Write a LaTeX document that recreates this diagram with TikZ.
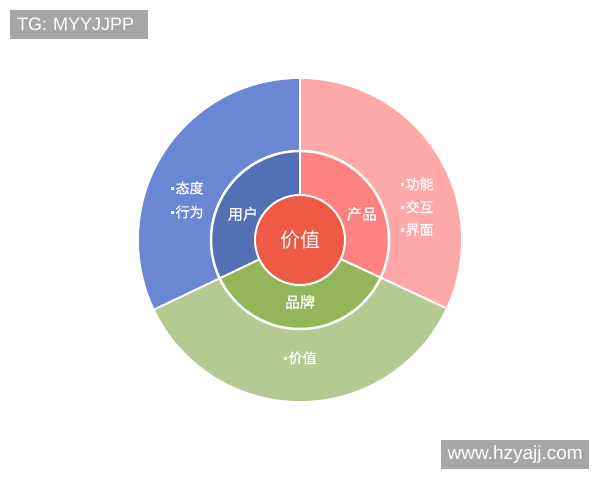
\documentclass[tikz,border=0pt]{standalone}
\usepackage{fontspec}
\usetikzlibrary{calc}
\setmainfont{Liberation Sans}
\newfontfamily\cjk{Noto Sans CJK SC}[FakeBold=0.8]
\newfontfamily\cjkreg{Noto Sans CJK SC}
\definecolor{outerBlue}{HTML}{6A87D4}
\definecolor{innerBlue}{HTML}{5170B6}
\definecolor{outerPink}{HTML}{FFA8A8}
\definecolor{innerPink}{HTML}{FF8282}
\definecolor{outerGreen}{HTML}{B4CA92}
\definecolor{innerGreen}{HTML}{93B65A}
\definecolor{coreRed}{HTML}{EE5A44}
\definecolor{markGray}{HTML}{A6A6A6}
\newcommand{\bulsq}{\raisebox{3.5pt}{\rule{3.2pt}{3.2pt}}\hspace{1.2pt}}
\begin{document}
\begin{tikzpicture}[x=1pt,y=1pt,
  sep/.style={white,line width=2pt},
  ringtxt/.style={text=white,font=\cjk\fontsize{15}{17}\selectfont,inner sep=0pt},
  outtxt/.style={text=white,font=\cjk\fontsize{14}{16}\selectfont,inner sep=0pt,anchor=west},
  wmark/.style={fill=markGray,text=white,inner sep=0pt,anchor=north west}]
\useasboundingbox (0,0) rectangle (600,480);
\fill[white] (0,0) rectangle (600,480);
\def\cx{300}\def\cy{240}
\def\Rout{161}\def\Rmid{89}\def\Rin{45}
\def\aA{90}\def\aB{205.5}\def\aC{-25}
% outer ring
\fill[outerBlue] (\cx,\cy) -- ++(\aA:\Rout) arc[start angle=\aA,end angle=\aB,radius=\Rout] -- cycle;
\fill[outerGreen] (\cx,\cy) -- ++(\aB:\Rout) arc[start angle=\aB,end angle=335,radius=\Rout] -- cycle;
\fill[outerPink] (\cx,\cy) -- ++(\aC:\Rout) arc[start angle=\aC,end angle=\aA,radius=\Rout] -- cycle;
% middle ring
\fill[innerBlue] (\cx,\cy) -- ++(\aA:\Rmid) arc[start angle=\aA,end angle=\aB,radius=\Rmid] -- cycle;
\fill[innerGreen] (\cx,\cy) -- ++(\aB:\Rmid) arc[start angle=\aB,end angle=335,radius=\Rmid] -- cycle;
\fill[innerPink] (\cx,\cy) -- ++(\aC:\Rmid) arc[start angle=\aC,end angle=\aA,radius=\Rmid] -- cycle;
% separators
\coordinate (c) at (\cx,\cy);
\coordinate (ea) at ($(c)+(\aA:\Rout)$);
\coordinate (eb) at ($(c)+(\aB:\Rout)$);
\coordinate (ec) at ($(c)+(\aC:\Rout)$);
\draw[sep] (c) -- (ea);
\draw[sep] (c) -- (eb);
\draw[sep] (c) -- (ec);
\draw[white,line width=2.5pt] (c) circle[radius=\Rmid];
% core
\node[circle,fill=coreRed,draw=white,line width=2pt,minimum size=90pt,inner sep=0pt,
      text=white,font=\cjkreg\fontsize{20}{22}\selectfont] (core) at (c) {价值};
% ring labels
\node[ringtxt] (user) at (243,266) {用户};
\node[ringtxt] (prod) at (362,266) {产品};
\node[ringtxt] (brand) at (300,178) {品牌};
% outer labels
\node[outtxt] (l1) at (171,292) {\bulsq 态度};
\node[outtxt] (l2) at (171,268) {\bulsq 行为};
\node[outtxt] (r1) at (401,296) {\bulsq 功能};
\node[outtxt] (r2) at (401,273) {\bulsq 交互};
\node[outtxt] (r3) at (401,250) {\bulsq 界面};
\node[outtxt] (b1) at (284,122) {\bulsq 价值};
% watermarks
\node[wmark,minimum width=138pt,minimum height=29pt,text width=132pt,align=left,
      font=\fontsize{18}{20}\selectfont] (tg) at (10,470) {\hspace{4pt}TG: MYYJJPP};
\node[wmark,minimum width=148pt,minimum height=29pt,text width=148pt,align=center,
      font=\fontsize{19}{21}\selectfont] (web) at (441,40) {www.hzyajj.com};
\end{tikzpicture}
\end{document}
